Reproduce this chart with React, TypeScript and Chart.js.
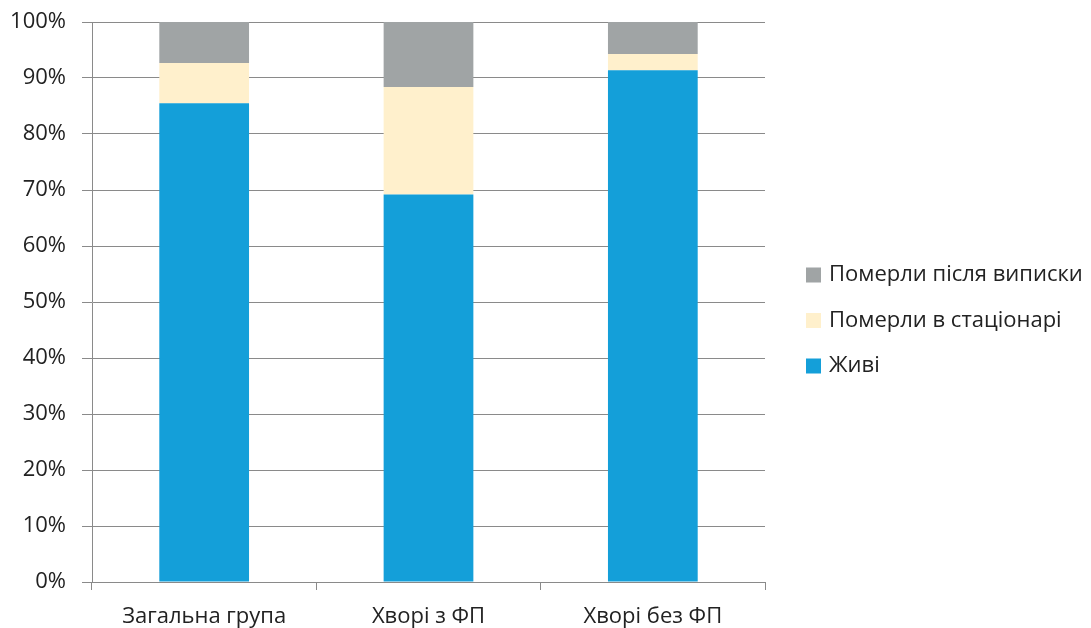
import React, { useEffect, useRef } from "react";
import { Chart, registerables } from "chart.js";

Chart.register(...registerables);

const categories = ["Загальна група", "Хворі з ФП", "Хворі без ФП"];
const alive = [85.5, 69.2, 91.4];
const diedInHospital = [7.2, 19.2, 2.9];
const diedAfterDischarge = [7.3, 11.6, 5.7];
const seriesNames = ["Живі", "Померли в стаціонарі", "Померли після виписки"];
const seriesColors = ["#149fd9", "#fff0cc", "#a0a4a5"];
const yTicks = [0, 10, 20, 30, 40, 50, 60, 70, 80, 90, 100];

const FONT = "'Open Sans', sans-serif";
const FONT_SIZE = 22;

const legendPlugin = {
  id: "customLegend",
  afterDraw(chart: any) {
    const ctx = chart.ctx;
    const ds = chart.data.datasets;
    const x = chart.chartArea.right + 41;
    const spacing = 45.5;
    const startY = 275;
    ctx.save();
    ctx.font = `${FONT_SIZE}px ${FONT}`;
    ctx.textBaseline = "middle";
    ctx.textAlign = "left";
    for (let k = 0; k < ds.length; k++) {
      const d = ds[ds.length - 1 - k];
      const cy = startY + k * spacing;
      ctx.fillStyle = d.backgroundColor;
      ctx.fillRect(x, cy - 7.5, 15, 15);
      ctx.fillStyle = "#222222";
      ctx.fillText(d.label, x + 23, cy);
    }
    ctx.restore();
  },
};

export default function App() {
  const ref = useRef<HTMLCanvasElement | null>(null);
  useEffect(() => {
    document.body.style.margin = "0";
    const canvas = ref.current!;
    const seriesData = [alive, diedInHospital, diedAfterDischarge];
    const chart = new Chart(canvas, {
      type: "bar",
      data: {
        labels: categories,
        datasets: seriesData.map((d, i) => ({
          label: seriesNames[i],
          data: d,
          backgroundColor: seriesColors[i],
          borderWidth: 0,
          barPercentage: 0.4,
          categoryPercentage: 1,
        })),
      },
      options: {
        animation: false,
        responsive: false,
        maintainAspectRatio: false,
        layout: { padding: { top: 0, right: 326, left: 0, bottom: 0 } },
        plugins: {
          legend: { display: false },
          tooltip: { enabled: false },
        },
        scales: {
          x: {
            stacked: true,
            offset: true,
            afterFit: (s: any) => {
              s.height = 46;
              s.paddingLeft = 0;
              s.paddingRight = 0;
            },
            grid: {
              offset: true,
              drawOnChartArea: false,
              drawTicks: true,
              tickLength: 8,
              color: "#8a8a8a",
            },
            border: { color: "#8a8a8a", width: 1 },
            ticks: {
              color: "#222222",
              font: { family: FONT, size: FONT_SIZE },
              padding: 14,
            },
          },
          y: {
            stacked: true,
            min: 0,
            max: 100,
            afterBuildTicks: (axis: any) => {
              axis.ticks = yTicks.map((v) => ({ value: v }));
            },
            afterFit: (s: any) => {
              s.width = 92;
              s.paddingTop = 22;
              s.paddingBottom = 0;
            },
            grid: {
              color: "#8a8a8a",
              drawTicks: true,
              tickLength: 10,
            },
            border: { color: "#8a8a8a", width: 1 },
            ticks: {
              color: "#222222",
              font: { family: FONT, size: FONT_SIZE },
              padding: 16,
              callback: (v: any) => `${v}%`,
            },
          },
        },
      },
      plugins: [legendPlugin],
    });
    return () => chart.destroy();
  }, []);
  return (
    <div style={{ position: "fixed", left: 0, top: 0, width: 1091, height: 628 }}>
      <canvas ref={ref} width={1091} height={628} style={{ width: 1091, height: 628 }} />
    </div>
  );
}
